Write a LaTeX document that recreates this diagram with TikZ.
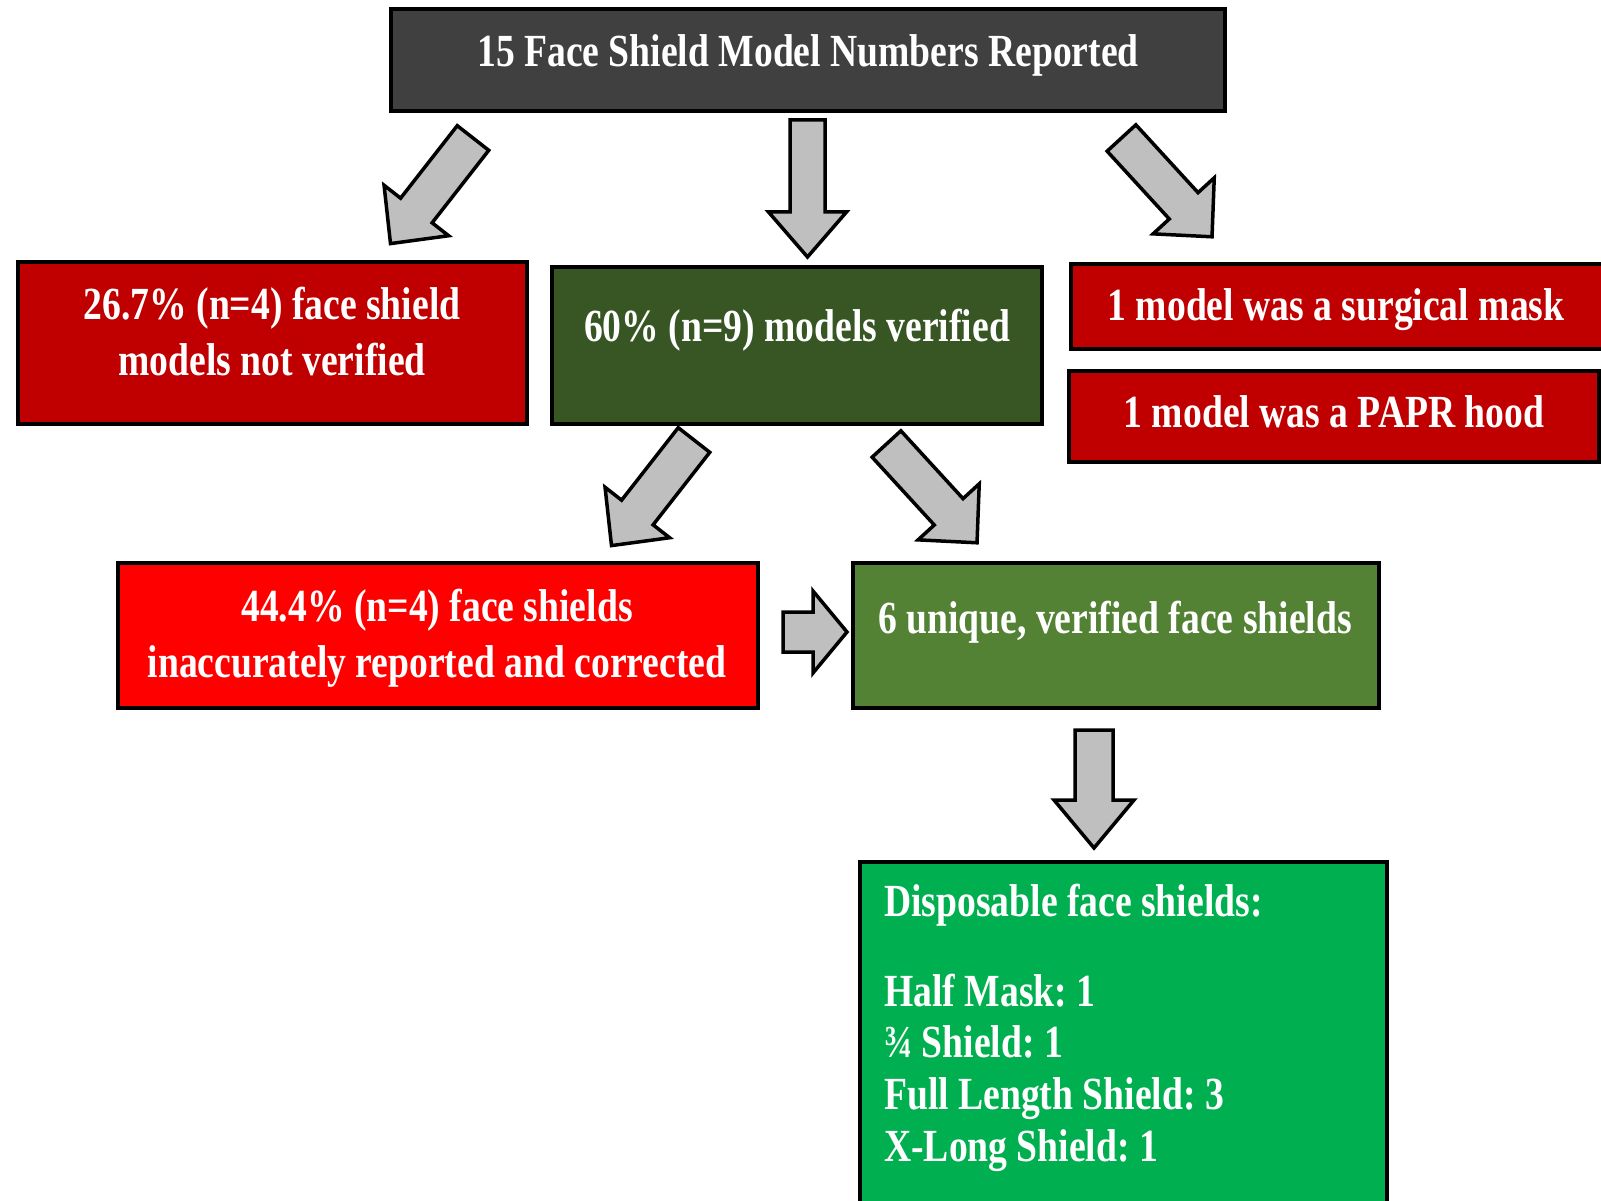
\documentclass[tikz,border=0pt]{standalone}
\usepackage{fontspec}
\setmainfont{Liberation Serif}[FakeStretch=0.818]
\definecolor{topgray}{HTML}{404040}
\definecolor{darkred}{HTML}{C00000}
\definecolor{dkgreen}{HTML}{375623}
\definecolor{brred}{HTML}{FF0000}
\definecolor{olgreen}{HTML}{548235}
\definecolor{ltgreen}{HTML}{00B050}
\definecolor{arrowgray}{HTML}{BFBFBF}
\frenchspacing
\tikzset{
  box/.style={draw=black, line width=4pt, inner sep=0pt},
  txt/.style={text=white, font=\fontsize{46}{52}\selectfont\bfseries, inner sep=0pt, anchor=base},
  txtl/.style={txt, anchor=base west},
  blk/.style={draw=black, fill=arrowgray, line width=3.5pt, line join=miter},
  pics/blockarrow/.style args={#1/#2/#3/#4}{code={
    \draw[blk] (0,-#2/2) -- ({#1-#4},-#2/2) -- ({#1-#4},-#3/2) -- (#1,0)
      -- ({#1-#4},#3/2) -- ({#1-#4},#2/2) -- (0,#2/2) -- cycle;
  }}
}
\begin{document}
\begin{tikzpicture}[x=1pt,y=-1pt]
\useasboundingbox (0,0) rectangle (1601,1201);
\clip (0,0) rectangle (1601,1201);
% boxes
\node[box, fill=topgray, minimum width=834pt, minimum height=102pt] (top) at (808,60) {};
\node[box, fill=darkred, minimum width=509pt, minimum height=162pt] (nv) at (272.5,343) {};
\node[box, fill=dkgreen, minimum width=490pt, minimum height=157pt] (ver) at (797,345.5) {};
\node[box, fill=darkred, minimum width=539pt, minimum height=85pt] (mask) at (1340.5,306.5) {};
\node[box, fill=darkred, minimum width=530pt, minimum height=91pt] (papr) at (1334,416.5) {};
\node[box, fill=brred, minimum width=640pt, minimum height=145pt] (inacc) at (438,635.5) {};
\node[box, fill=olgreen, minimum width=526pt, minimum height=145pt] (uniq) at (1116,635.5) {};
\node[box, fill=ltgreen, minimum width=527pt, minimum height=348pt] (disp) at (1123.5,1036) {};
% texts
\node[txt] (topT) at (808,67) {15 Face Shield Model Numbers Reported};
\node[txt] (nvT1) at (272,319) {26.7\% (n=4) face shield};
\node[txt] (nvT2) at (272,375) {models not verified};
\node[txt] (verT) at (797,341) {60\% (n=9) models verified};
\node[txt] (maskT) at (1336,320) {1 model was a surgical mask};
\node[txt] (paprT) at (1334,427) {1 model was a PAPR hood};
\node[txt] (inaccT1) at (437,621) {44.4\% (n=4) face shields};
\node[txt] (inaccT2) at (437,677) {inaccurately reported and corrected};
\node[txt] (uniqT) at (1115,633) {6 unique, verified face shields};
\node[txtl] (dispT0) at (884,916) {Disposable face shields:};
\node[txtl] (dispT1) at (884,1006) {Half Mask: 1};
\node[txtl] (dispT2) at (884,1057) {¾ Shield: 1};
\node[txtl] (dispT3) at (884,1109) {Full Length Shield: 3};
\node[txtl] (dispT4) at (884,1161) {X-Long Shield: 1};
% block arrows
\pic[rotate=-128] (ar1) at (473,138) {blockarrow=134/40/82/42};
\pic[rotate=-90] (ar2) at (807.5,120) {blockarrow=137/35/78/45};
\pic[rotate=-47.5] (ar3) at (1121.5,138) {blockarrow=134/39/83/42};
\pic[rotate=-128] (ar4) at (694,440) {blockarrow=134/40/82/42};
\pic[rotate=-47.5] (ar5) at (886.5,444) {blockarrow=134/39/83/42};
\pic (ar6) at (783,632) {blockarrow=64/40/82/34};
\pic[rotate=-90] (ar7) at (1094,730) {blockarrow=118/38/80/48};
\end{tikzpicture}
\end{document}
